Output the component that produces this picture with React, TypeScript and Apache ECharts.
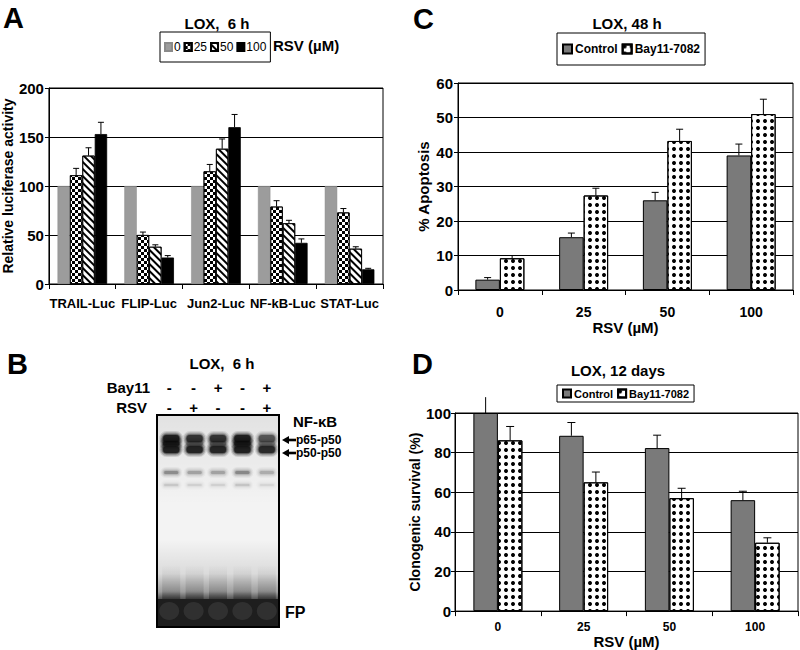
import React, { useEffect, useRef } from "react";
import * as echarts from "echarts";

const FONT = '"Liberation Sans", Arial, Helvetica, sans-serif';

// ---------- Panel A data ----------
const luciferaseCategories = ["TRAIL-Luc", "FLIP-Luc", "Jun2-Luc", "NF-kB-Luc", "STAT-Luc"];
const rsvDoseNames = ["0", "25", "50", "100"];
const rsv0Values = [100, 100, 100, 100, 100];
const rsv25Values = [111, 50, 115, 79, 73];
const rsv50Values = [131, 38, 138, 62, 36];
const rsv100Values = [153, 27, 160, 42, 15];
const rsv0Sd = [0, 0, 0, 0, 0];
const rsv25Sd = [7, 3, 7, 6, 4];
const rsv50Sd = [8, 2, 10, 3, 2];
const rsv100Sd = [12, 2, 13, 4, 1];

// ---------- Panel C data ----------
const rsvDoses = ["0", "25", "50", "100"];
const groupNames = ["Control", "Bay11-7082"];
const apoptosisControl = [3, 15.3, 26, 39];
const apoptosisControlSd = [0.6, 1.2, 2.3, 3.3];
const apoptosisBay = [9.2, 27.4, 43.2, 51];
const apoptosisBaySd = [0.8, 2.1, 3.4, 4.3];

// ---------- Panel D data ----------
const survivalControl = [100, 88.5, 82.3, 56];
const survivalControlSd = [8, 6.7, 6.5, 4.5];
const survivalBay = [86.2, 65, 57, 34.5];
const survivalBaySd = [7, 5.2, 5, 2.5];

// ---------- Panel B (gel) data ----------
const bay11Signs = ["-", "-", "+", "-", "+"];
const rsvSigns = ["-", "+", "-", "-", "+"];
const p65Intensity = [1, 0.8, 0.8, 1, 0.55];
const p50Intensity = [1, 0.95, 0.92, 1, 0.88];
const bandGapIntensity = [0.95, 0.35, 0.35, 0.95, 0.25];
const faintBandIntensity = [0.3, 0.22, 0.22, 0.32, 0.18];

const checkerDecal = {
  symbol: "rect",
  symbolSize: 1,
  color: "#000",
  backgroundColor: "#fff",
  dashArrayX: [[2.5, 2.5], [0, 2.5, 2.5, 0]],
  dashArrayY: [2.5, 0],
};
const stripeDecal = {
  symbol: "rect",
  symbolSize: 1,
  color: "#000",
  backgroundColor: "#fff",
  dashArrayX: [1, 0],
  dashArrayY: [2, 2.5],
  rotation: Math.PI / 4,
};
const dotDecal = {
  symbol: "circle",
  symbolSize: 1,
  color: "#000",
  backgroundColor: "#fff",
  dashArrayX: [4, 2.6],
  dashArrayY: [4, 2.8],
};

function errorSeries(
  axisIndex: number,
  values: number[][],
  sds: number[][],
  barWidth: number,
  capWidth: number,
  yMax: number
) {
  const n = values.length;
  const data: number[][] = [];
  values.forEach((vals, s) =>
    vals.forEach((v, c) => {
      if (sds[s][c] > 0) data.push([c, v, v + sds[s][c], s]);
    })
  );
  return {
    type: "custom",
    xAxisIndex: axisIndex,
    yAxisIndex: axisIndex,
    silent: true,
    z: 5,
    clip: false,
    encode: { x: 0, y: 1 },
    data,
    renderItem: (params: any, api: any) => {
      const c = api.value(0);
      const v = api.value(1);
      const top = api.value(2);
      const s = api.value(3);
      const base = api.coord([c, v]);
      const hi = api.coord([c, top]);
      const x = base[0] + (s - (n - 1) / 2) * barWidth;
      const st = { stroke: "#000", lineWidth: 1 };
      const children: any[] = [
        { type: "line", shape: { x1: x, y1: base[1], x2: x, y2: hi[1] }, style: st },
      ];
      if (top <= yMax) {
        children.push({
          type: "line",
          shape: { x1: x - capWidth / 2, y1: hi[1], x2: x + capWidth / 2, y2: hi[1] },
          style: st,
        });
      }
      return { type: "group", children };
    },
  };
}

function text(
  t: string,
  x: number,
  y: number,
  size: number,
  align: string = "center",
  weight: string = "bold"
) {
  return {
    type: "text",
    x,
    y,
    style: {
      text: t,
      font: `${weight} ${size}px ${FONT}`,
      fill: "#000",
      align,
      verticalAlign: "middle",
    },
  };
}

function softRect(x: number, y: number, w: number, h: number, alpha: number, r: number) {
  const layers = [
    { d: 4, a: 0.12 },
    { d: 2.8, a: 0.2 },
    { d: 1.6, a: 0.3 },
    { d: 0.6, a: 0.45 },
    { d: 0, a: 0.6 },
  ];
  return layers.map((l) => ({
    type: "rect",
    shape: { x: x - l.d, y: y - l.d, width: w + 2 * l.d, height: h + 2 * l.d, r: r + l.d },
    style: { fill: `rgba(8,8,8,${Math.min(1, alpha * l.a)})` },
  }));
}

function gelElements() {
  const x0 = 157;
  const y0 = 415;
  const w = 122;
  const h = 212;
  const pitch = w / bay11Signs.length;
  const els: any[] = [];
  els.push({ type: "rect", shape: { x: x0, y: y0, width: w, height: h }, style: { fill: "#f3f3f3" } });
  els.push({
    type: "rect",
    shape: { x: x0, y: y0, width: w, height: 90 },
    style: {
      fill: new echarts.graphic.LinearGradient(0, 0, 0, 1, [
        { offset: 0, color: "rgba(0,0,0,0.07)" },
        { offset: 1, color: "rgba(0,0,0,0)" },
      ]),
    },
  });
  els.push({
    type: "rect",
    shape: { x: x0, y: 540, width: w, height: 61 },
    style: {
      fill: new echarts.graphic.LinearGradient(0, 0, 0, 1, [
        { offset: 0, color: "rgba(0,0,0,0)" },
        { offset: 0.55, color: "rgba(0,0,0,0.1)" },
        { offset: 0.85, color: "rgba(0,0,0,0.35)" },
        { offset: 1, color: "rgba(0,0,0,0.75)" },
      ]),
    },
  });
  bay11Signs.forEach((_, i) => {
    const cx = x0 + pitch * (i + 0.5) + (i === 0 ? 2 : i === 1 ? 1 : 0);
    const bw = 16;
    els.push(...softRect(cx - bw / 2, 435, bw, 7, p65Intensity[i], 3.5));
    els.push(...softRect(cx - bw / 2, 441.5, bw, 4, bandGapIntensity[i], 1));
    els.push(...softRect(cx - bw / 2, 446, bw, 7, p50Intensity[i], 3.5));
    els.push(...softRect(cx - 7, 471, 14, 3, faintBandIntensity[i], 1.5));
    els.push(...softRect(cx - 7, 484, 14, 2, faintBandIntensity[i] * 0.35, 1));
    els.push({
      type: "rect",
      shape: { x: cx - 9, y: 565, width: 18, height: 36 },
      style: {
        fill: new echarts.graphic.LinearGradient(0, 0, 0, 1, [
          { offset: 0, color: "rgba(0,0,0,0)" },
          { offset: 0.7, color: "rgba(0,0,0,0.12)" },
          { offset: 1, color: "rgba(0,0,0,0.4)" },
        ]),
      },
    });
  });
  els.push({ type: "rect", shape: { x: x0, y: 599, width: w, height: h - (599 - y0) }, style: { fill: "#1e1e1e" } });
  bay11Signs.forEach((_, i) => {
    const cx = x0 + pitch * (i + 0.5);
    els.push({
      type: "ellipse",
      shape: { cx, cy: 611, rx: 10, ry: 9 },
      style: { fill: "rgba(70,70,70,0.45)" },
    });
  });
  els.push({
    type: "rect",
    shape: { x: x0, y: y0, width: w, height: h },
    style: { fill: "none", stroke: "#000", lineWidth: 2 },
  });
  bay11Signs.forEach((s, i) => {
    const cx = x0 + pitch * (i + 0.5);
    els.push(text(s, cx, 387, 15));
    els.push(text(rsvSigns[i], cx, 407, 15));
  });
  els.push(text("Bay11", 150, 387, 15, "right"));
  els.push(text("RSV", 147, 407, 15, "right"));
  els.push(text("NF-κB", 293, 421, 15, "left"));
  [440, 453].forEach((ay) => {
    els.push({
      type: "polygon",
      shape: { points: [[282, ay], [289, ay - 4], [289, ay + 4]] },
      style: { fill: "#000" },
    });
    els.push({ type: "rect", shape: { x: 288, y: ay - 1.3, width: 8, height: 2.6 }, style: { fill: "#000" } });
  });
  els.push(text("p65-p50", 296, 440, 12, "left"));
  els.push(text("p50-p50", 296, 453, 12, "left"));
  els.push(text("FP", 285, 612, 16, "left"));
  return els;
}

const axisLabelBold = (size: number, margin: number) => ({
  color: "#000",
  fontWeight: "bold",
  fontSize: size,
  fontFamily: FONT,
  margin,
  interval: 0,
});

const blackLine = { lineStyle: { color: "#000", width: 1 } };

export default function App() {
  const ref = useRef<HTMLDivElement>(null);
  useEffect(() => {
    if (!ref.current) return;
    const chart = echarts.init(ref.current, undefined, { renderer: "svg" });
    const barA = 12.4;
    const barCD = 24.5;
    const option: any = {
      animation: false,
      backgroundColor: "#fff",
      textStyle: { fontFamily: FONT, color: "#000" },
      grid: [
        { left: 48, top: 88, width: 335, height: 196, show: true, borderColor: "#000", borderWidth: 1 },
        { left: 458, top: 83, width: 335, height: 207, show: true, borderColor: "#000", borderWidth: 1 },
        { left: 455, top: 413, width: 343, height: 199, show: true, borderColor: "#000", borderWidth: 1 },
      ],
      legend: [
        {
          data: rsvDoseNames,
          left: 160,
          top: 32,
          icon: "rect",
          itemWidth: 7,
          itemHeight: 8,
          itemGap: 3,
          padding: [9, 4],
          borderColor: "#000",
          borderWidth: 1,
          selectedMode: false,
          textStyle: { fontSize: 12, color: "#000", fontFamily: FONT, padding: [0, 0, 0, -3] },
        },
        {
          data: groupNames,
          left: 557,
          top: 33,
          icon: "rect",
          itemWidth: 9,
          itemHeight: 9,
          itemGap: 4,
          padding: [10, 5],
          borderColor: "#000",
          borderWidth: 1,
          selectedMode: false,
          textStyle: { fontSize: 12, fontWeight: "bold", color: "#000", fontFamily: FONT, padding: [0, 0, 0, -2] },
        },
        {
          data: groupNames,
          left: 557,
          top: 385,
          icon: "rect",
          itemWidth: 8,
          itemHeight: 8,
          itemGap: 4,
          padding: [3, 5],
          borderColor: "#000",
          borderWidth: 1,
          selectedMode: false,
          textStyle: { fontSize: 11, fontWeight: "bold", color: "#000", fontFamily: FONT, padding: [0, 0, 0, -2] },
        },
      ],
      xAxis: [
        {
          type: "category",
          gridIndex: 0,
          data: luciferaseCategories,
          axisLine: blackLine,
          axisTick: { show: true, length: 5, ...blackLine },
          axisLabel: axisLabelBold(13, 13),
        },
        {
          type: "category",
          gridIndex: 1,
          data: rsvDoses,
          axisLine: blackLine,
          axisTick: { show: true, length: 5, ...blackLine },
          axisLabel: axisLabelBold(14, 15),
          name: "RSV (µM)",
          nameLocation: "middle",
          nameGap: 30,
          nameTextStyle: { fontSize: 15, fontWeight: "bold", color: "#000", fontFamily: FONT },
        },
        {
          type: "category",
          gridIndex: 2,
          data: rsvDoses,
          axisLine: blackLine,
          axisTick: { show: true, length: 5, ...blackLine },
          axisLabel: axisLabelBold(12, 10),
          name: "RSV (µM)",
          nameLocation: "middle",
          nameGap: 21,
          nameTextStyle: { fontSize: 15, fontWeight: "bold", color: "#000", fontFamily: FONT },
        },
      ],
      yAxis: [
        {
          type: "value",
          gridIndex: 0,
          min: 0,
          max: 200,
          interval: 50,
          axisLine: { show: true, ...blackLine },
          axisTick: { show: true, length: 4, ...blackLine },
          splitLine: blackLine,
          axisLabel: axisLabelBold(15, 5),
          name: "Relative luciferase activity",
          nameLocation: "middle",
          nameGap: 32,
          nameTextStyle: { fontSize: 14, fontWeight: "bold", color: "#000", fontFamily: FONT },
        },
        {
          type: "value",
          gridIndex: 1,
          min: 0,
          max: 60,
          interval: 10,
          axisLine: { show: true, ...blackLine },
          axisTick: { show: true, length: 4, ...blackLine },
          splitLine: blackLine,
          axisLabel: axisLabelBold(15, 5),
          name: "% Apoptosis",
          nameLocation: "middle",
          nameGap: 27,
          nameTextStyle: { fontSize: 15, fontWeight: "bold", color: "#000", fontFamily: FONT },
        },
        {
          type: "value",
          gridIndex: 2,
          min: 0,
          max: 100,
          interval: 20,
          axisLine: { show: true, ...blackLine },
          axisTick: { show: true, length: 4, ...blackLine },
          splitLine: blackLine,
          axisLabel: axisLabelBold(15, 4),
          name: "Clonogenic survival (%)",
          nameLocation: "middle",
          nameGap: 30,
          nameTextStyle: { fontSize: 14, fontWeight: "bold", color: "#000", fontFamily: FONT },
        },
      ],
      series: [
        {
          name: "0",
          type: "bar",
          xAxisIndex: 0,
          yAxisIndex: 0,
          data: rsv0Values,
          barWidth: barA,
          barGap: "0%",
          itemStyle: { color: "#9c9c9c", borderColor: "#8a8a8a", borderWidth: 0.5 },
        },
        {
          name: "25",
          type: "bar",
          xAxisIndex: 0,
          yAxisIndex: 0,
          data: rsv25Values,
          barWidth: barA,
          barGap: "0%",
          itemStyle: { color: "#fff", borderColor: "#000", borderWidth: 0.8, decal: checkerDecal },
        },
        {
          name: "50",
          type: "bar",
          xAxisIndex: 0,
          yAxisIndex: 0,
          data: rsv50Values,
          barWidth: barA,
          barGap: "0%",
          itemStyle: { color: "#fff", borderColor: "#000", borderWidth: 0.8, decal: stripeDecal },
        },
        {
          name: "100",
          type: "bar",
          xAxisIndex: 0,
          yAxisIndex: 0,
          data: rsv100Values,
          barWidth: barA,
          barGap: "0%",
          itemStyle: { color: "#000", borderColor: "#000", borderWidth: 0.8 },
        },
        errorSeries(0, [rsv0Values, rsv25Values, rsv50Values, rsv100Values], [rsv0Sd, rsv25Sd, rsv50Sd, rsv100Sd], barA, 6, 200),
        {
          name: "Control",
          type: "bar",
          xAxisIndex: 1,
          yAxisIndex: 1,
          data: apoptosisControl,
          barWidth: barCD,
          barGap: "0%",
          itemStyle: { color: "#7a7a7a", borderColor: "#000", borderWidth: 1 },
        },
        {
          name: "Bay11-7082",
          type: "bar",
          xAxisIndex: 1,
          yAxisIndex: 1,
          data: apoptosisBay,
          barWidth: barCD,
          barGap: "0%",
          itemStyle: { color: "#fff", borderColor: "#000", borderWidth: 1, decal: dotDecal },
        },
        errorSeries(1, [apoptosisControl, apoptosisBay], [apoptosisControlSd, apoptosisBaySd], barCD, 7, 60),
        {
          name: "Control",
          type: "bar",
          xAxisIndex: 2,
          yAxisIndex: 2,
          data: survivalControl,
          barWidth: barCD,
          barGap: "0%",
          itemStyle: { color: "#7a7a7a", borderColor: "#000", borderWidth: 1 },
        },
        {
          name: "Bay11-7082",
          type: "bar",
          xAxisIndex: 2,
          yAxisIndex: 2,
          data: survivalBay,
          barWidth: barCD,
          barGap: "0%",
          itemStyle: { color: "#fff", borderColor: "#000", borderWidth: 1, decal: dotDecal },
        },
        errorSeries(2, [survivalControl, survivalBay], [survivalControlSd, survivalBaySd], barCD, 8, 100),
      ],
      graphic: {
        elements: [
          text("A", 3, 18, 29, "left"),
          text("LOX,  6 h", 217, 23, 15),
          text("RSV (µM)", 273, 45, 15, "left"),
          text("C", 413, 19, 29, "left"),
          text("LOX, 48 h", 627, 23, 15),
          text("B", 7, 364, 29, "left"),
          text("LOX,  6 h", 222, 363, 15),
          text("D", 412, 364, 29, "left"),
          text("LOX, 12 days", 618, 370, 15),
          ...gelElements(),
        ],
      },
    };
    chart.setOption(option);
    return () => chart.dispose();
  }, []);
  return (
    <div
      ref={ref}
      style={{ position: "absolute", left: 0, top: 0, width: 800, height: 650, background: "#fff" }}
    />
  );
}
